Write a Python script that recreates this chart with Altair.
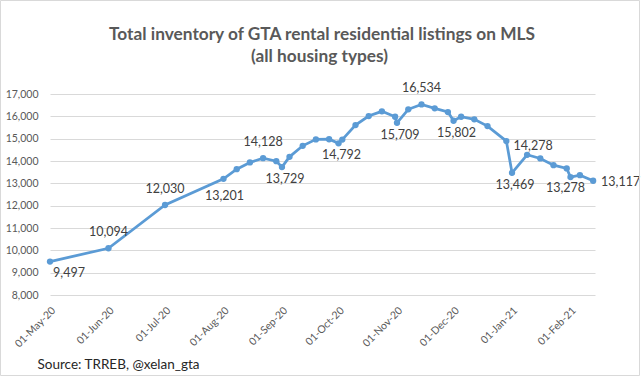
import altair as alt
import pandas as pd

# ---- data ----
dates = ["2020-05-01", "2020-06-01", "2020-07-01", "2020-08-01", "2020-08-08",
         "2020-08-15", "2020-08-22", "2020-08-29", "2020-09-01", "2020-09-05",
         "2020-09-12", "2020-09-19", "2020-09-26", "2020-10-01", "2020-10-03",
         "2020-10-10", "2020-10-17", "2020-10-24", "2020-10-31", "2020-11-01",
         "2020-11-07", "2020-11-14", "2020-11-21", "2020-11-28", "2020-12-01",
         "2020-12-05", "2020-12-12", "2020-12-19", "2020-12-29", "2021-01-01",
         "2021-01-09", "2021-01-16", "2021-01-23", "2021-01-30", "2021-02-01",
         "2021-02-06", "2021-02-13"]
values = [9497, 10094, 12030, 13201, 13635,
          13936, 14128, 13994, 13729, 14187,
          14681, 14968, 14975, 14792, 14960,
          15609, 16013, 16224, 15982, 15709,
          16314, 16534, 16358, 16192, 15802,
          15982, 15865, 15564, 14891, 13469,
          14278, 14115, 13815, 13667, 13278,
          13366, 13117]

label_dates = ["2020-05-01", "2020-06-01", "2020-07-01", "2020-08-01", "2020-08-22",
               "2020-09-01", "2020-10-01", "2020-11-01", "2020-11-14", "2020-12-01",
               "2021-01-01", "2021-01-09", "2021-02-01", "2021-02-13"]
label_groups = ["first", "above", "above", "below_far", "above",
                "below", "below", "below", "above", "below",
                "below", "above_near", "below_left", "right"]

month_ticks = [(2020, 5), (2020, 6), (2020, 7), (2020, 8), (2020, 9), (2020, 10),
               (2020, 11), (2020, 12), (2021, 1), (2021, 2)]
y_ticks = [8000, 9000, 10000, 11000, 12000, 13000, 14000, 15000, 16000, 17000]

title_line1 = "Total inventory of GTA rental residential listings on MLS"
title_line2 = "(all housing types)"
source_text = "Source: TRREB, @xelan_gta"

# ---- styles ----
FONT = "Lato"
BLUE = "#5B9BD5"
label_style = {
    "first": dict(dx=19, dy=11, align="center"),
    "above": dict(dx=0, dy=-16, align="center"),
    "above_near": dict(dx=6, dy=-9, align="center"),
    "below": dict(dx=3, dy=12, align="center"),
    "below_far": dict(dx=1, dy=17, align="center"),
    "below_left": dict(dx=-5, dy=11, align="center"),
    "right": dict(dx=8, dy=1, align="left"),
}

W, H = 545, 201
PAD = {"left": 50, "top": 94, "right": 49, "bottom": 82}

df = pd.DataFrame({"date": dates, "value": values})
lab = pd.DataFrame({"date": label_dates, "group": label_groups}).merge(df, on="date")

x_scale = alt.Scale(
    type="utc",
    domain=[alt.DateTime(year=2020, month=5, date=1, utc=True),
            alt.DateTime(year=2021, month=2, date=14, utc=True)],
)
y_scale = alt.Scale(domain=[8000, 17000])
x_axis = alt.Axis(
    values=[alt.DateTime(year=y, month=m, date=1, utc=True) for y, m in month_ticks],
    format="%d-%b-%y", labelAngle=-45, labelAlign="right", labelBaseline="top",
    labelPadding=10, ticks=False, grid=False, domain=False,
    labelFont=FONT, labelFontSize=10.5, labelColor="#595959",
    title=source_text, titleFont=FONT, titleFontSize=13.5, titleFontWeight="normal",
    titleColor="#262626", titleAngle=0, titleAlign="left", titleBaseline="alphabetic",
    titleX=-13, titleY=73,
)
y_axis = alt.Axis(
    values=y_ticks, format=",.0f", title=None, ticks=False, domain=False,
    labelPadding=12, labelFont=FONT, labelFontSize=10.5, labelColor="#595959",
    gridColor="#d9d9d9", gridWidth=1,
)

X = alt.X("date:T", scale=x_scale, axis=x_axis)
Y = alt.Y("value:Q", scale=y_scale, axis=y_axis)

line = alt.Chart(df).mark_line(
    color=BLUE, strokeWidth=2.75,
    point=alt.OverlayMarkDef(filled=True, size=40, color=BLUE),
).encode(x=X, y=Y)

layers = [line]
for g, st in label_style.items():
    t = alt.Chart(lab).transform_filter(alt.datum.group == g).mark_text(
        font=FONT, fontSize=12.5, color="#404040", baseline="middle",
        dx=st["dx"], dy=st["dy"], align=st["align"],
    ).encode(
        x=X, y=Y,
        text=alt.Text("value:Q", format=",.0f"),
    )
    layers.append(t)

one = pd.DataFrame({"k": [0]})
title1 = alt.Chart(one).mark_text(
    text=title_line1, font=FONT, fontSize=17.3, fontWeight="bold", color="#595959",
    align="center", baseline="alphabetic",
).encode(x=alt.value(W / 2 - 0.5), y=alt.value(39.5 - PAD["top"]))
title2 = alt.Chart(one).mark_text(
    text=title_line2, font=FONT, fontSize=17.3, fontWeight="bold", color="#595959",
    align="center", baseline="alphabetic",
).encode(x=alt.value(W / 2 - 3), y=alt.value(61.5 - PAD["top"]))
layers += [title1, title2]

border = alt.Chart(one).mark_rect(
    filled=False, stroke="#d9d9d9", strokeWidth=1
).encode(
    x=alt.value(-PAD["left"] + 0.5), x2=alt.value(W + PAD["right"] - 4.5),
    y=alt.value(-PAD["top"] + 0.5), y2=alt.value(H + PAD["bottom"] - 1.5),
)
layers.append(border)

chart = alt.layer(*layers).properties(
    width=W, height=H,
    autosize=alt.AutoSizeParams(type="none"),
    padding=PAD,
    background="white",
).configure_view(stroke=None)

chart.save("out.html", embed_options={"renderer": "svg", "actions": False})
